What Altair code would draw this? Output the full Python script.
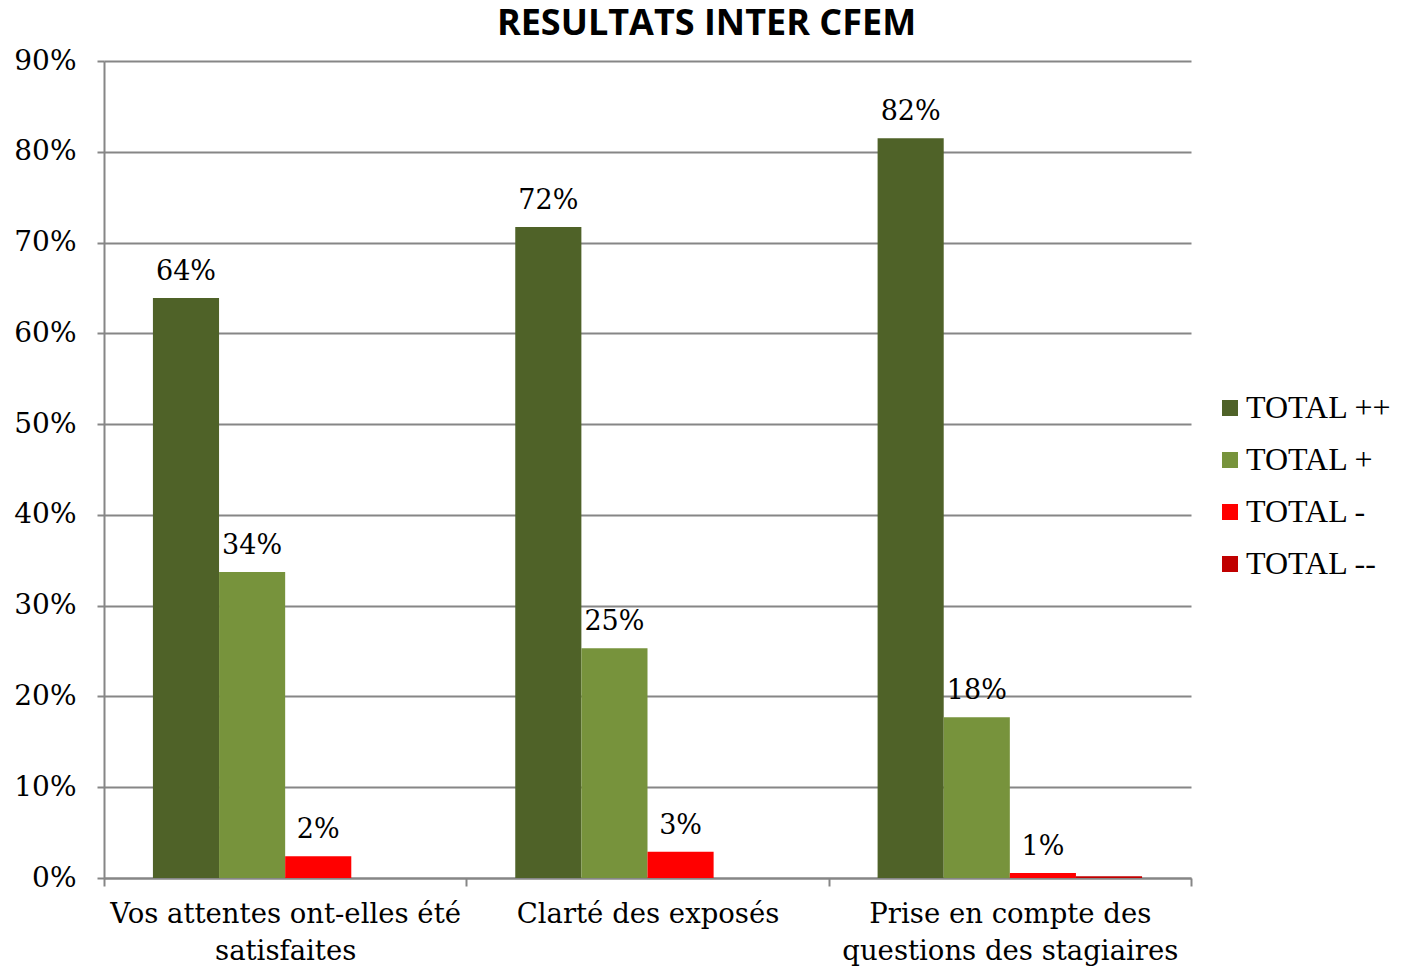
import altair as alt
import pandas as pd

categories = ["Vos attentes ont-elles été|satisfaites", "Clarté des exposés", "Prise en compte des|questions des stagiaires"]
series = ["TOTAL ++", "TOTAL +", "TOTAL -", "TOTAL --"]
colors = ["#4F6228", "#77933C", "#FF0000", "#C00000"]
v_pp = [0.639, 0.717, 0.815]
v_p = [0.337, 0.253, 0.177]
v_m = [0.024, 0.029, 0.0055]
v_mm = [0.0, 0.0, 0.002]

rows = []
for i, c in enumerate(categories):
    for s, v in zip(series, [v_pp[i], v_p[i], v_m[i], v_mm[i]]):
        rows.append({"cat": c, "series": s, "value": v,
                     "label": f"{round(v*100)}%" if s != "TOTAL --" else ""})
df = pd.DataFrame(rows)

serif = "Liberation Serif"
serif2 = "DejaVu Serif"

x = alt.X("cat:N", sort=categories, title=None,
          scale=alt.Scale(paddingInner=0, paddingOuter=0),
          axis=alt.Axis(labelExpr="split(datum.label, '|')", labelAngle=0,
                        labelFont=serif2, labelFontSize=27.5, labelLineHeight=37,
                        labelLimit=500,
                        labelColor="black", labelPadding=14, tickBand="extent",
                        tickSize=8, tickColor="#868686", domainColor="#868686",
                        tickWidth=2, domainWidth=2, grid=False, labelBaseline="top"))
xo = alt.XOffset("series:N", sort=series, scale=alt.Scale(paddingInner=0, paddingOuter=0.74))

bars = alt.Chart(df).mark_bar().encode(
    x=x, xOffset=xo,
    y=alt.Y("value:Q", title=None,
            scale=alt.Scale(domain=[0, 0.9]),
            axis=alt.Axis(format=".0%", values=[i/10 for i in range(10)],
                          labelFont=serif2, labelFontSize=28, labelColor="black",
                          labelPadding=21, tickSize=7, tickColor="#868686", tickWidth=2,
                          domainColor="#868686", domainWidth=2,
                          gridColor="#868686", gridWidth=2)),
    color=alt.Color("series:N", sort=series,
                    scale=alt.Scale(domain=series, range=colors),
                    legend=alt.Legend(title=None, orient="none", legendX=1110, legendY=331,
                                      symbolType="square", symbolSize=256,
                                      symbolStrokeWidth=0, labelFont=serif,
                                      labelFontSize=32, labelColor="black",
                                      rowPadding=20, labelOffset=0, labelLimit=300,
                                      labelExpr="datum.label == 'TOTAL --' ? '\u00a0TOTAL --' : datum.label")),
)

texts = alt.Chart(df).mark_text(baseline="bottom", dy=-12, font=serif2, fontSize=27, color="black").encode(
    x=alt.X("cat:N", sort=categories), xOffset=xo,
    y="value:Q", text="label:N")

chart = alt.layer(bars, texts).properties(
    width=1087, height=817,
    title=alt.TitleParams("RESULTATS INTER CFEM", font="Open Sans", fontSize=36,
                          fontWeight="bold", color="black", dx=59, offset=4),
    autosize=alt.AutoSizeParams(type="none"),
    padding={"left": 96, "top": 53, "right": 203, "bottom": 92},
).configure_view(stroke=None)

chart.save("out.html", embed_options={"renderer": "svg", "actions": False})
